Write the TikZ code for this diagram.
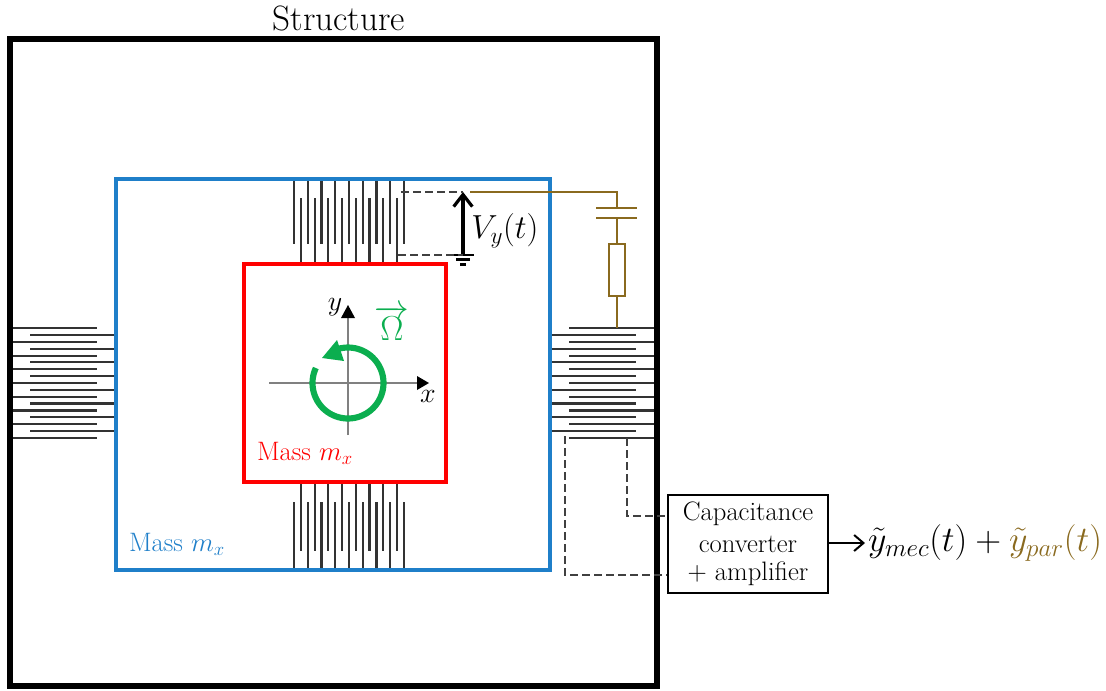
\documentclass[tikz,border=0pt]{standalone}
\usepackage{fix-cm}
\usetikzlibrary{arrows.meta,positioning}
\definecolor{mblue}{HTML}{1F7FC9}
\definecolor{mred}{HTML}{FF0000}
\definecolor{mgreen}{HTML}{0BAE4F}
\definecolor{mbrown}{HTML}{8A6A1F}
\newcommand{\fsz}[1]{\fontsize{#1}{#1}\selectfont}
\tikzset{
  finger/.style={line width=1.6pt,color=black!80},
  dashlink/.style={line width=0.9pt,dash pattern=on 6pt off 3pt,color=black!75},
  brownwire/.style={line width=1.5pt,color=mbrown},
  axisline/.style={line width=1.4pt,color=black!50},
  lab/.style={inner sep=0pt,outer sep=0pt},
}
\begin{document}
\begin{tikzpicture}[x=0.75pt,y=-0.75pt]
\useasboundingbox (0,0) rectangle (1106,690);
% combs, top
\foreach \i in {0,...,8} \draw[finger] ({294+13.75*\i},179) -- ({294+13.75*\i},244);
\foreach \i in {0,...,7} \draw[finger] ({301+13.7*\i},264) -- ({301+13.7*\i},198);
% combs, bottom
\foreach \i in {0,...,8} \draw[finger] ({294+13.75*\i},570) -- ({294+13.75*\i},502);
\foreach \i in {0,...,7} \draw[finger] ({301+13.7*\i},482) -- ({301+13.7*\i},551);
% combs, left
\foreach \i in {0,...,8} \draw[finger] (10,{328.3+13.7*\i}) -- (97,{328.3+13.7*\i});
\foreach \i in {0,...,7} \draw[finger] (116,{335+13.7*\i}) -- (30,{335+13.7*\i});
% combs, right
\foreach \i in {0,...,8} \draw[finger] (657,{328.3+13.7*\i}) -- (569,{328.3+13.7*\i});
\foreach \i in {0,...,7} \draw[finger] (550,{335+13.7*\i}) -- (636,{335+13.7*\i});
% frames
\node[draw=black,line width=5pt,minimum width=485.25pt,minimum height=485.25pt,anchor=center,inner sep=0pt] (structure) at (333.5,362.5) {};
\node[draw=mblue,line width=3.2pt,minimum width=325.5pt,minimum height=293.25pt,anchor=center,inner sep=0pt] (massblue) at (333,374.5) {};
\node[draw=mred,line width=3.6pt,minimum width=151.5pt,minimum height=163.5pt,anchor=center,inner sep=0pt] (massred) at (345,373) {};
% labels
\node[lab] (title) at (339,18) {\fsz{26.4}Structure};
\node[lab,text=mblue,anchor=west] (lblue) at (129,544) {\fsz{20}Mass $m_x$};
\node[lab,text=mred,anchor=west] (lred) at (257,453) {\fsz{20}Mass $m_x$};
% axes
\coordinate (xa) at (269,383); \coordinate (xb) at (429,383);
\coordinate (ya) at (348,435); \coordinate (yb) at (348,305);
\draw[axisline] (xa) -- (418,383);
\draw[axisline] (ya) -- (348,317);
\fill[black] (xb) -- (417,376) -- (417,390) -- cycle;
\fill[black] (yb) -- (341,318) -- (355,318) -- cycle;
\node[lab] (xlab) at (428,396) {\fsz{21}$x$};
\node[lab] (ylab) at (335,307) {\fsz{21}$y$};
% rotation
\draw[mgreen,line width=4.6pt] plot[domain=155:470,samples=80] ({348+35.5*cos(\x)},{383-35.5*sin(\x)});
\fill[mgreen] (322,358) -- (337,340) -- (344,361) -- cycle;
\node[lab,text=mgreen] (omega) at (392,323) {\fsz{26}$\overrightarrow{\Omega}$};
% voltage
\coordinate (vtop) at (463,192); \coordinate (vbot) at (463,255);
\draw[line width=2.4pt,-{Straight Barb[length=9pt,width=14pt,line width=2.4pt]}] (vbot) -- (vtop);
\draw[line width=1.6pt] (452,255) -- (474,255);
\draw[line width=1.6pt] (456,259.5) -- (470,259.5);
\draw[line width=1.6pt] (460,264.5) -- (466,264.5);
\node[lab] (vlab) at (505,231) {\fsz{25}$V_y(t)$};
\coordinate (t1) at (401,192); \coordinate (t2) at (398,255);
\draw[dashlink] (t1) -- (vtop);
\draw[dashlink] (t2) -- (vbot);
% parasitic path
\coordinate (wa) at (470,192); \coordinate (wb) at (617,192);
\coordinate (capa) at (617,207.7); \coordinate (capb) at (617,218.3);
\node[draw=mbrown,line width=1.5pt,minimum width=12.5pt,minimum height=39pt,inner sep=0pt] (res) at (617,270) {};
\coordinate (wc) at (617,328);
\draw[brownwire] (wa) -- (wb) -- (capa);
\draw[brownwire] (596,207.7) -- (637,207.7);
\draw[brownwire] (596,218.3) -- (637,218.3);
\draw[brownwire] (capb) -- (res.north);
\draw[brownwire] (res.south) -- (wc);
% converter
\node[draw=black,line width=1.5pt,fill=white,minimum width=120pt,minimum height=73.5pt,inner sep=0pt,anchor=north west] (conv) at (667,494) {};
\node[lab] (convt1) at (748,514) {\fsz{20}Capacitance};
\node[lab] (convt2) at (748,544) {\fsz{20}converter};
\node[lab] (convt3) at (748,574) {\fsz{20}+ amplifier};
\coordinate (d1) at (627,438); \coordinate (d1c) at (627,516);
\coordinate (d2) at (565,436); \coordinate (d2c) at (565,575);
\draw[dashlink] (d1) -- (d1c) -- (conv.west |- d1c);
\draw[dashlink] (d2) -- (d2c) -- (conv.west |- d2c);
\node[lab,anchor=west] (out) at (868,543) {\fsz{26.9}$\tilde{y}_{mec}(t)+{\color{mbrown}\tilde{y}_{par}(t)}$};
\coordinate (arrowend) at (865,543);
\draw[line width=1.5pt,-{Straight Barb[length=7pt,width=12pt,line width=1.5pt]}] (conv.east |- arrowend) -- (arrowend);
\end{tikzpicture}
\end{document}
